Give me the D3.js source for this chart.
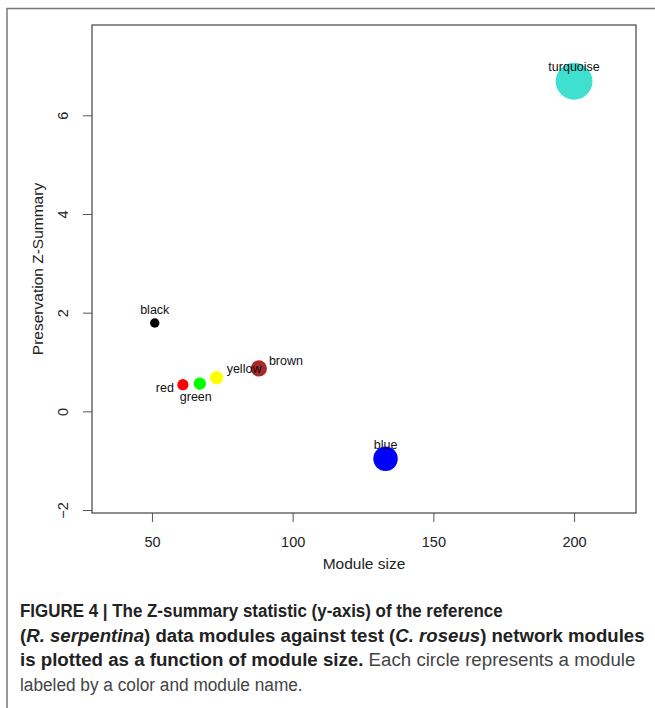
<!DOCTYPE html>
<html>
<head>
<meta charset="utf-8">
<script src="https://cdn.jsdelivr.net/npm/d3@7"></script>
<style>
  html, body { margin: 0; padding: 0; background: #fff; }
  svg { display: block; }
</style>
</head>
<body>
<svg id="chart" width="655" height="708"></svg>
<script>
// Module preservation data
const modules = ["turquoise", "blue", "brown", "yellow", "green", "red", "black"];
const moduleSize = [200, 133, 88, 73, 67, 61, 51];
const zSummary = [6.69, -0.96, 0.87, 0.68, 0.56, 0.54, 1.79];
const moduleColors = ["#40E0D0", "#0000FF", "#A52A2A", "#FFFF00", "#00FF00", "#FF0000", "#000000"];
const xTicks = [50, 100, 150, 200];
const yTicks = [-2, 0, 2, 4, 6];

// Label placement around each point: [dx, dy, anchor]
const labelPlacement = [
  [0, -10, "middle"],
  [0, -10, "middle"],
  [10, -3, "start"],
  [10, -5, "start"],
  [-4, 17, "middle"],
  [-9, 7, "end"],
  [0, -9, "middle"]
];

const svg = d3.select("#chart");
const font = "'Liberation Sans', Arial, Helvetica, sans-serif";

// Panel frame (top and left edges)
svg.append("path")
  .attr("d", "M7,708 V8.5 H655")
  .attr("fill", "none")
  .attr("stroke", "#777")
  .attr("stroke-width", 1.5);

const plot = { left: 92, top: 25, right: 636, bottom: 513 };

const x = d3.scaleLinear().domain([28.7, 222]).range([plot.left, plot.right]);
const y = d3.scaleLinear().domain([-2.06, 7.83]).range([plot.bottom, plot.top]);
const r = d3.scaleLinear().domain([0, 200]).range([0, 18.4]);

// X axis
const xAxis = svg.append("g")
  .attr("transform", `translate(0,${plot.bottom})`)
  .call(d3.axisBottom(x).tickValues(xTicks).tickSize(9).tickPadding(15).tickFormat(d3.format("d")));
xAxis.select(".domain").remove();
xAxis.selectAll("line").attr("stroke", "#555");
xAxis.selectAll("text").attr("font-family", font).attr("font-size", 14.5).attr("fill", "#222");

// Y axis
const yAxis = svg.append("g")
  .attr("transform", `translate(${plot.left},0)`)
  .call(d3.axisLeft(y).tickValues(yTicks).tickSize(9).tickFormat(d3.format("d")));
yAxis.select(".domain").remove();
yAxis.selectAll("line").attr("stroke", "#555");
yAxis.selectAll("text")
  .attr("font-family", font).attr("font-size", 14.5).attr("fill", "#222")
  .attr("x", null)
  .attr("text-anchor", "middle")
  .attr("transform", "translate(-29,0) rotate(-90)")
  .attr("dy", "0.35em");

// Plot box
svg.append("rect")
  .attr("x", plot.left).attr("y", plot.top)
  .attr("width", plot.right - plot.left).attr("height", plot.bottom - plot.top)
  .attr("fill", "none").attr("stroke", "#444").attr("stroke-width", 1.2);

// Axis titles
svg.append("text")
  .attr("x", (plot.left + plot.right) / 2).attr("y", 569)
  .attr("text-anchor", "middle")
  .attr("font-family", font).attr("font-size", 15.5).attr("fill", "#222")
  .text("Module size");

svg.append("text")
  .attr("transform", `translate(43,${(plot.top + plot.bottom) / 2}) rotate(-90)`)
  .attr("text-anchor", "middle")
  .attr("font-family", font).attr("font-size", 15.5).attr("fill", "#222")
  .text("Preservation Z-Summary");

// Points
const data = modules.map((m, i) => ({
  name: m, size: moduleSize[i], z: zSummary[i], color: moduleColors[i], place: labelPlacement[i]
}));

svg.append("g").selectAll("circle")
  .data(data)
  .join("circle")
  .attr("cx", d => x(d.size))
  .attr("cy", d => y(d.z))
  .attr("r", d => r(d.size))
  .attr("fill", d => d.color);

svg.append("g").selectAll("text")
  .data(data)
  .join("text")
  .attr("x", d => x(d.size) + d.place[0])
  .attr("y", d => y(d.z) + d.place[1])
  .attr("text-anchor", d => d.place[2])
  .attr("font-family", font).attr("font-size", 12.5).attr("fill", "#111")
  .text(d => d.name);

// Caption: a condensed face, each line set to its measure
const capLeft = 20;
const lineEnds = [503, 645, 636, 303];
const cap = svg.append("g").attr("font-family", font).attr("font-size", 19);
const lines = [
  [["FIGURE 4 | The Z-summary statistic (y-axis) of the reference", "bold", "normal"]],
  [["(", "bold", "normal"], ["R. serpentina", "bold", "italic"], [") data modules against test (", "bold", "normal"],
   ["C. roseus", "bold", "italic"], [") network modules", "bold", "normal"]],
  [["is plotted as a function of module size.", "bold", "normal"], [" Each circle represents a module", "normal", "normal"]],
  [["labeled by a color and module name.", "normal", "normal"]]
];
lines.forEach((segs, i) => {
  const t = cap.append("text").attr("x", 0).attr("y", 0).style("white-space", "pre");
  segs.forEach(s => {
    t.append("tspan")
      .attr("font-weight", s[1])
      .attr("font-style", s[2])
      .attr("fill", s[1] === "bold" ? "#222" : "#444")
      .text(s[0]);
  });
  const w = t.node().getComputedTextLength();
  const sx = (lineEnds[i] - capLeft) / w;
  t.attr("transform", `translate(${capLeft},${617 + i * 24.6}) scale(${sx},1)`);
});
</script>
</body>
</html>
